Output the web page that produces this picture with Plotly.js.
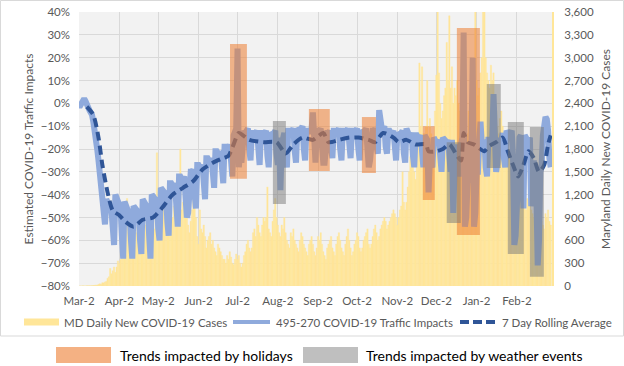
<!DOCTYPE html>
<html>
<head>
<meta charset="utf-8">
<script src="https://cdn.plot.ly/plotly-3.0.1.min.js"></script>
<style>html,body{margin:0;padding:0;background:#fff;}#chart{width:624px;height:366px;}</style>
</head>
<body>
<div id="chart"></div>
<script>
// ---- DATA ----
const startDate = '2020-03-02'; // first day of the daily series (Mon)

// Maryland daily new COVID-19 cases (one value per day, weeks Mon..Sun)
const dailyCases = [
  0,0,0,3,0,1,2,
  3,3,2,5,6,8,11,
  12,20,28,22,43,41,54,
  60,100,120,230,160,200,250,
  180,250,330,300,350,600,480,
  400,400,1150,700,500,700,550,
  550,530,700,780,750,900,700,
  650,700,800,850,1060,800,650,
  700,900,750,1000,1750,1100,900,
  850,800,1000,900,1100,900,800,
  750,850,900,1050,1100,900,800,
  900,1800,1000,1100,1000,1050,1000,
  800,700,850,1000,1350,1100,900,
  650,550,1000,750,700,800,650,
  500,600,650,700,550,600,500,
  450,400,550,500,450,400,350,
  350,300,400,350,450,380,300,
  280,350,420,350,400,300,250,
  300,400,450,550,600,500,450,
  500,700,750,650,900,800,700,
  650,800,900,850,900,1300,750,
  700,650,850,1000,1150,900,800,
  700,650,800,750,900,700,600,
  550,500,700,650,750,600,550,
  500,450,600,700,650,550,500,
  450,400,550,600,650,550,450,
  400,500,650,600,700,550,450,
  400,350,500,550,600,650,500,
  450,400,550,650,700,600,500,
  450,400,550,650,750,600,500,
  400,450,550,600,700,650,500,
  450,500,600,650,700,750,550,
  500,550,650,750,800,700,600,
  650,750,800,850,900,850,750,
  800,850,900,950,1000,950,900,
  800,900,1000,1050,1500,1100,1000,
  1100,1300,1500,1700,1650,1600,1500,
  1400,1700,2000,2930,2100,2880,2000,
  2000,2100,2700,1800,2200,2000,1700,
  1600,2300,2770,3700,2800,2400,2200,
  2300,2500,2600,3200,2700,3550,2600,
  2880,2400,2600,2500,2700,2400,2300,
  2200,2400,2500,2300,1900,2000,2300,
  2200,2500,2700,2600,3700,2700,2500,
  2600,2800,3000,3700,3700,3000,2800,
  2700,2600,2900,2700,2800,2500,2300,
  2100,2000,2200,2300,2100,2000,1800,
  1700,1600,1800,1700,1600,1500,1400,
  1300,1200,1400,1300,1250,1200,1100,
  1100,1000,1150,1100,1050,1000,950,
  900,850,1000,950,1000,900,850,
  800,750,950,900,1000,850,800
];

// 495-270 COVID-19 traffic impacts, % (one value per day, weeks Mon..Sun)
const trafficImpact = [
  -1,-1,0,1,2,1,-1,
  -2,-3,-4,-5,-8,-14,-16,
  -20,-25,-30,-35,-40,-45,-53,
  -42,-44,-45,-46,-47,-57,-62,
  -40,-42,-44,-45,-46,-58,-68,
  -43,-45,-46,-47,-49,-60,-68,
  -45,-46,-46,-47,-48,-60,-66,
  -42,-43,-44,-45,-46,-58,-68,
  -40,-41,-42,-42,-43,-55,-60,
  -37,-38,-39,-39,-40,-52,-58,
  -35,-35,-36,-36,-37,-48,-54,
  -32,-32,-33,-33,-32,-44,-50,
  -48,-30,-30,-30,-29,-40,-46,
  -27,-27,-28,-28,-27,-36,-42,
  -24,-24,-25,-25,-24,-33,-37,
  -21,-21,-22,-22,-21,-30,-35,
  -19,-19,-20,-20,-18,-28,-32,
  -14,-12,-11,24,-28,-22,-26,
  -12,-12,-13,-12,-11,-20,-25,
  -13,-13,-13,-13,-12,-22,-27,
  -13,-13,-14,-13,-12,-23,-28,
  -13,-14,-14,-13,-12,-22,-27,
  -15,-38,-18,-14,-13,-24,-28,
  -12,-12,-13,-12,-11,-21,-26,
  -11,-12,-12,-11,-10,-20,-25,
  -12,-12,-13,-12,-11,-4,-22,
  -26,-12,-12,-12,-11,-20,-26,
  -26,-14,-13,-13,-12,-20,-24,
  -12,-12,-13,-12,-11,-20,-25,
  -12,-12,-12,-12,-11,-20,-24,
  -12,-12,-13,-12,-11,-20,-25,
  -12,-13,-13,-12,-11,-20,-28,
  -25,-12,-12,-12,-11,-19,-22,
  -3,-11,-11,-11,-10,-19,-22,
  -12,-12,-13,-13,-12,-22,-25,
  -13,-14,-14,-13,-12,-22,-26,
  -11,-13,-14,-14,-13,-23,-28,
  -14,-14,-15,-15,-14,-24,-28,
  -14,-15,-16,-39,-25,-27,-28,
  -15,-16,-17,-17,-16,-26,-30,
  -15,-16,-16,-17,-16,-26,-30,
  -16,-48,-30,-20,-18,-28,-32,
  -18,-15,31,-54,-50,-35,-30,
  -18,-17,20,-54,-48,-30,-30,
  -17,-8,-18,-17,-16,-28,-32,
  -16,-16,-17,-16,4,-28,-30,
  -26,-15,-20,-14,-13,-24,-28,
  -12,-13,-14,-13,-12,-24,-62,
  -58,-45,-20,-15,-14,-25,-46,
  -14,-15,-18,-16,-15,-45,-40,
  -25,-30,-40,-71,-60,-30,-28,
  -14,-10,-6,-7,-12,-24,-28
];

// 7 day rolling average, %
const rollingDates = ['2020-03-08','2020-03-13','2020-03-17','2020-03-20','2020-03-24','2020-03-28','2020-04-02','2020-04-07','2020-04-13','2020-04-20','2020-04-28','2020-05-06','2020-05-13','2020-05-21','2020-05-29','2020-06-05','2020-06-13','2020-06-21','2020-06-25','2020-06-29','2020-07-03','2020-07-11','2020-07-22','2020-08-01','2020-08-08','2020-08-14','2020-08-21','2020-08-29','2020-09-06','2020-09-10','2020-09-18','2020-09-26','2020-10-03','2020-10-11','2020-10-16','2020-10-22','2020-10-30','2020-11-03','2020-11-09','2020-11-16','2020-11-24','2020-11-26','2020-12-02','2020-12-07','2020-12-12','2020-12-17','2020-12-21','2020-12-23','2020-12-26','2020-12-31','2021-01-08','2021-01-11','2021-01-17','2021-01-22','2021-01-26','2021-01-30','2021-02-03','2021-02-07','2021-02-11','2021-02-15','2021-02-19','2021-02-23','2021-02-26','2021-02-28'];
const rollingAvg = [-1.5,-5,-15,-27,-39,-47,-49,-52,-54,-51,-50,-45,-40,-37,-34,-29,-26,-24,-23,-18,-13,-16,-17,-17,-22,-18,-15,-16,-13,-17,-16,-15,-15,-16,-17,-13,-15,-17,-16,-18,-18,-21,-21,-20,-18,-22,-25,-13,-17,-18,-21,-19,-17,-15,-21,-27,-32,-27,-21,-24,-30,-27,-18,-14];

// highlighted periods: start, end, low %, high %
const holidayStart = ['2020-06-26 05:00','2020-08-25 22:00','2020-10-05 17:00','2020-11-21 14:00','2020-12-17 19:00'];
const holidayEnd   = ['2020-07-09 05:00','2020-09-11 00:00','2020-10-16 12:00','2020-11-30 19:00','2021-01-04 12:00'];
const holidayLow   = [-33,-29.6,-30.5,-42.3,-57.7];
const holidayHigh  = [26,-2.5,-6,-10,33];
const weatherStart = ['2020-07-29 05:00','2020-12-10 00:00','2021-01-09 19:00','2021-01-26 00:00','2021-02-12 00:00'];
const weatherEnd   = ['2020-08-08 05:00','2020-12-20 19:00','2021-01-20 14:00','2021-02-07 07:00','2021-02-22 17:00'];
const weatherLow   = [-44.1,-52.4,-28.3,-66,-76];
const weatherHigh  = [-7.7,-17,8.5,-8.2,-10.4];

const monthTickDates = ['2020-03-02','2020-04-02','2020-05-02','2020-06-02','2020-07-02','2020-08-02','2020-09-02','2020-10-02','2020-11-02','2020-12-02','2021-01-02','2021-02-02'];
const monthTickLabels = ['Mar-2','Apr-2','May-2','Jun-2','Jul-2','Aug-2','Sep-2','Oct-2','Nov-2','Dec-2','Jan-2','Feb-2'];

const seriesNames = ['MD Daily New COVID-19 Cases','495-270 COVID-19 Traffic Impacts','7 Day Rolling Average'];
const boxNames = ['Trends impacted by holidays','Trends impacted by weather events'];

// ---- BUILD ----
const t0 = Date.parse(startDate + 'T00:00:00Z');
const dayDates = dailyCases.map((_, i) => new Date(t0 + i * 86400000).toISOString().slice(0, 10));

const C_YELLOW = '#FFE699', C_BLUE = '#8FAADC', C_DARK = '#2F5597';
const C_ORANGE = 'rgba(237,125,49,0.55)', C_GREY = 'rgba(120,120,120,0.5)';

const traces = [
  {type:'bar', x:dayDates, y:dailyCases, yaxis:'y', name:seriesNames[0],
   marker:{color:C_YELLOW, line:{width:0.4, color:C_YELLOW}}, hoverinfo:'skip'},
  {type:'scatter', mode:'lines', x:dayDates, y:trafficImpact, yaxis:'y2', name:seriesNames[1],
   line:{color:C_BLUE, width:6}, hoverinfo:'skip'},
  {type:'scatter', mode:'lines', x:rollingDates, y:rollingAvg, yaxis:'y2', name:seriesNames[2],
   line:{color:C_DARK, width:4, dash:'9px,5px', shape:'spline', smoothing:0.7}, hoverinfo:'skip'}
];

// plot-area pixel helpers for legend placement (layout only)
const PL = 79, PR = 552, PT = 12, PB = 286;
const px = x => (x - PL) / (PR - PL);
const py = y => (PB - y) / (PB - PT);

const shapes = [];
holidayStart.forEach((s, i) => shapes.push({type:'rect', xref:'x', yref:'y2', x0:s, x1:holidayEnd[i], y0:holidayLow[i], y1:holidayHigh[i], fillcolor:C_ORANGE, line:{width:0}, layer:'above'}));
weatherStart.forEach((s, i) => shapes.push({type:'rect', xref:'x', yref:'y2', x0:s, x1:weatherEnd[i], y0:weatherLow[i], y1:weatherHigh[i], fillcolor:C_GREY, line:{width:0}, layer:'above'}));

// chart border
shapes.push({type:'rect', xref:'paper', yref:'paper', x0:px(0.5), x1:px(623.5), y0:py(336), y1:py(0.5), line:{color:'#D9D9D9', width:1}, fillcolor:'rgba(0,0,0,0)', layer:'below'});
// legend row 1 symbols
shapes.push({type:'rect', xref:'paper', yref:'paper', x0:px(24), x1:px(59), y0:py(325.5), y1:py(318.5), fillcolor:C_YELLOW, line:{width:0}});
shapes.push({type:'line', xref:'paper', yref:'paper', x0:px(233), x1:px(270), y0:py(322), y1:py(322), line:{color:C_BLUE, width:4}});
shapes.push({type:'line', xref:'paper', yref:'paper', x0:px(460), x1:px(497), y0:py(322), y1:py(322), line:{color:C_DARK, width:4, dash:'9px,4px'}});
// legend row 2 symbols
shapes.push({type:'rect', xref:'paper', yref:'paper', x0:px(56), x1:px(111), y0:py(363), y1:py(347), fillcolor:'#F4B183', line:{width:0}});
shapes.push({type:'rect', xref:'paper', yref:'paper', x0:px(303), x1:px(358), y0:py(363), y1:py(347), fillcolor:'#BFBFBF', line:{width:0}});

const legFont = {family:'Lato, sans-serif', size:11.5, color:'#595959'};
const boxFont = {family:'Lato, sans-serif', size:14, color:'#000000'};
const annotations = [
  {text:seriesNames[0], x:px(62), y:py(322), font:legFont},
  {text:seriesNames[1], x:px(274), y:py(322), font:legFont},
  {text:seriesNames[2], x:px(500), y:py(322), font:legFont},
  {text:boxNames[0], x:px(118), y:py(355), font:boxFont},
  {text:boxNames[1], x:px(364), y:py(355), font:boxFont}
].map(a => Object.assign({xref:'paper', yref:'paper', xanchor:'left', yanchor:'middle', showarrow:false}, a));

const layout = {
  width:624, height:366,
  margin:{l:PL, r:624 - PR, t:PT, b:366 - PB, pad:0},
  paper_bgcolor:'#FFFFFF', plot_bgcolor:'#F2F2F2',
  font:{family:'Lato, sans-serif', size:11.5, color:'#595959'},
  showlegend:false, bargap:0,
  xaxis:{type:'date', range:['2020-03-02','2021-03-01'], tickmode:'array', tickvals:monthTickDates, ticktext:monthTickLabels,
         showgrid:true, gridcolor:'#D9D9D9', gridwidth:1, zeroline:false, showline:false, ticks:'', ticklabelstandoff:6, fixedrange:true},
  yaxis:{side:'right', range:[0,3600], dtick:300, tick0:0, tickformat:',d', showgrid:true, gridcolor:'#D9D9D9', gridwidth:1,
         zeroline:false, showline:true, linecolor:C_YELLOW, linewidth:2, ticks:'', ticklabelstandoff:8,
         title:{text:'Maryland Daily New COVID-19 Cases', standoff:9, font:{size:12, color:'#595959'}}},
  yaxis2:{overlaying:'y', side:'left', anchor:'x', range:[-80,40], dtick:10, tick0:0, ticksuffix:'%', showgrid:false,
          zeroline:false, showline:false, ticks:'', ticklabelstandoff:8,
          title:{text:'Estimated COVID-19 Traffic Impacts', standoff:4, font:{size:12, color:'#595959'}}},
  shapes:shapes, annotations:annotations
};

Plotly.newPlot('chart', traces, layout, {staticPlot:true, displayModeBar:false});
</script>
</body>
</html>
